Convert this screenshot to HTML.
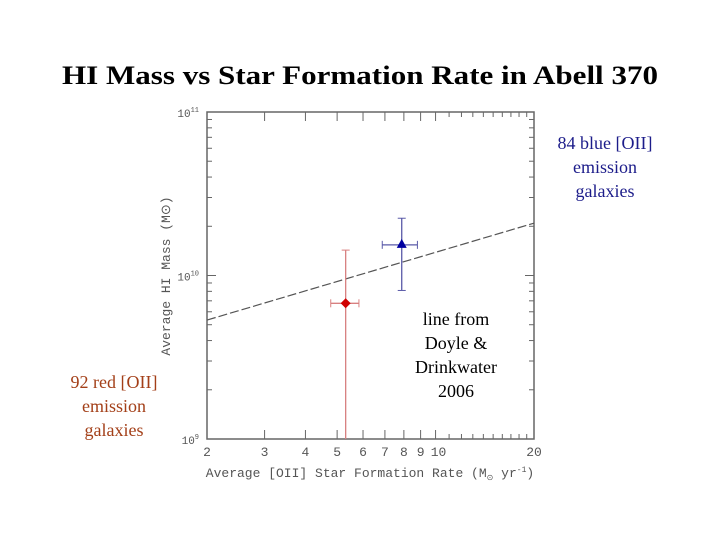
<!DOCTYPE html>
<html><head><meta charset="utf-8"><style>
body{margin:0;background:#fff;width:720px;height:540px;overflow:hidden}
svg text{font-family:"Liberation Serif",serif}
.ax{font-family:"Liberation Mono",monospace;fill:#555}
</style></head><body>
<svg id="c" width="720" height="540">
<text x="360" y="84" text-anchor="middle" font-size="26" font-weight="bold" textLength="596" lengthAdjust="spacingAndGlyphs">HI Mass vs Star Formation Rate in Abell 370</text>
<g id="plot"></g>
<text x="605" y="149" text-anchor="middle" font-size="18" fill="#1c1c8a"><tspan x="605">84 blue [OII]</tspan><tspan x="605" dy="24">emission</tspan><tspan x="605" dy="24">galaxies</tspan></text>
<text x="114" y="388" text-anchor="middle" font-size="18" fill="#a33f18"><tspan x="114">92 red [OII]</tspan><tspan x="114" dy="24">emission</tspan><tspan x="114" dy="24">galaxies</tspan></text>
<text x="456" y="325" text-anchor="middle" font-size="18" fill="#000"><tspan x="456">line from</tspan><tspan x="456" dy="24">Doyle &amp;</tspan><tspan x="456" dy="24">Drinkwater</tspan><tspan x="456" dy="24">2006</tspan></text>
</svg>
<script>
const xTicks=[2,3,4,5,6,7,8,9,10,20];
const xTickLabels=["2","3","4","5","6","7","8","9","10","20"];
const yMajor=[1e9,1e10,1e11];
const yTickLabels=["9","10","11"];
const seriesNames=["red","blue"];
const sfr=[5.31,7.88];
const sfrLo=[4.78,6.87];
const sfrHi=[5.83,8.8];
const mass=[6.76e9,1.54e10];
const massLo=[5e8,8.1e9];
const massHi=[1.43e10,2.24e10];
const lineX=[2,20];
const lineY=[5.34e9,2.09e10];
const L=207,R=534,T=112,B=439;
const X=v=>L+(Math.log10(v)-Math.log10(2))*(R-L);
const Y=v=>B-(Math.log10(v)-9)*(B-T)/2;
const ns="http://www.w3.org/2000/svg";
const g=document.getElementById('plot');
function el(t,a,p){const e=document.createElementNS(ns,t);for(const k in a)e.setAttribute(k,a[k]);(p||g).appendChild(e);return e;}
const fr=el('rect',{x:L,y:T,width:R-L,height:B-T,fill:'none',stroke:'#666','stroke-width':1.5});


const clip=el('clipPath',{id:'cp'});el('rect',{x:L,y:T,width:R-L,height:B-T},clip);
// x ticks
for(let v=2;v<=20;v+=(v<10?1:1)){const x=X(v);const maj=xTicks.includes(v);const len=maj?9:5;
 el('line',{x1:x,y1:B,x2:x,y2:B-len,stroke:'#666'});el('line',{x1:x,y1:T,x2:x,y2:T+len,stroke:'#666'});}
xTicks.forEach((v,i)=>{const t=el('text',{x:X(v)+(v==10?3:0),y:B+17,'text-anchor':'middle','font-size':13,class:'ax'});t.textContent=xTickLabels[i];
 
 });
// y ticks
for(let d=9;d<11;d++)for(let m=1;m<=10;m++){const v=m*Math.pow(10,d);const y=Y(v);const len=m==1||m==10?9:5;
 el('line',{x1:L,y1:y,x2:L+len,y2:y,stroke:'#666'});el('line',{x1:R,y1:y,x2:R-len,y2:y,stroke:'#666'});}
yMajor.forEach((v,i)=>{const t=el('text',{x:L-8,y:Y(v)+5,'text-anchor':'end','font-size':11,class:'ax'});t.innerHTML='10<tspan dy="-5" font-size="7">'+yTickLabels[i]+'</tspan>';
 
 });
const xl=el('text',{x:370,y:477,'text-anchor':'middle','font-size':13,class:'ax'});xl.innerHTML='Average [OII] Star Formation Rate (M<tspan font-size="8" dy="3">⊙</tspan><tspan dy="-3"> yr</tspan><tspan dy="-5" font-size="8">-1</tspan><tspan dy="5">)</tspan>';


const yl=el('text',{x:0,y:0,'text-anchor':'middle','font-size':13,class:'ax',transform:'translate(170,276) rotate(-90)'});yl.textContent='Average HI Mass (M⊙)';


const ln=el('line',{x1:X(lineX[0]),y1:Y(lineY[0]),x2:X(lineX[1]),y2:Y(lineY[1]),stroke:'#555','stroke-width':1.2,'stroke-dasharray':'9,3'});


const cols=['#d88080','#5a5aa8'],mk=['#d00000','#0000a0'];
sfr.forEach((v,i)=>{const gg=el('g',{'clip-path':'url(#cp)'});
 
 
 const x=X(v),y=Y(mass[i]),c=cols[i];
 el('line',{x1:X(sfrLo[i]),y1:y,x2:X(sfrHi[i]),y2:y,stroke:c,'stroke-width':1.3},gg);
 el('line',{x1:x,y1:Y(massLo[i]),x2:x,y2:Y(massHi[i]),stroke:c,'stroke-width':1.3},gg);
 [X(sfrLo[i]),X(sfrHi[i])].forEach(xx=>el('line',{x1:xx,y1:y-4,x2:xx,y2:y+4,stroke:c},gg));
 [Y(massLo[i]),Y(massHi[i])].forEach(yy=>el('line',{x1:x-4,y1:yy,x2:x+4,y2:yy,stroke:c},gg));
 if(i==0)el('polygon',{points:`${x},${y-5} ${x+5},${y} ${x},${y+5} ${x-5},${y}`,fill:mk[i]},gg);
 else el('polygon',{points:`${x},${y-6} ${x+5},${y+3} ${x-5},${y+3}`,fill:mk[i]},gg);
});
</script>
</body></html>
